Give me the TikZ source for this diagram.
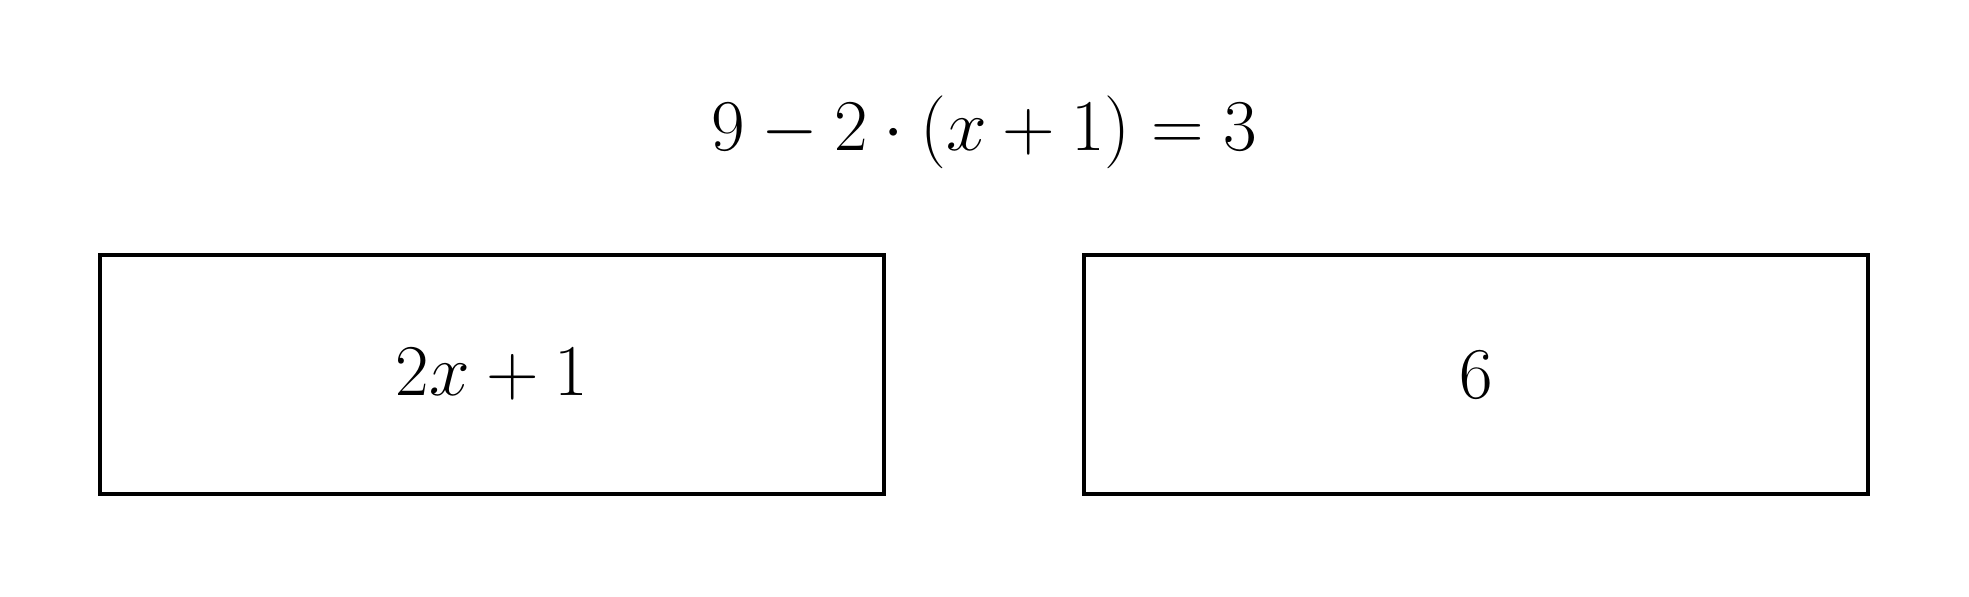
\documentclass[tikz,border=0pt]{standalone}
\begin{document}
\begin{tikzpicture}[x=0.01cm,y=-0.01cm,
  mathbox/.style={draw=black, line width=1.1pt, minimum width=7.84cm, minimum height=2.39cm, inner sep=0pt},
  big/.style={font=\fontsize{20}{24}\selectfont}]
\useasboundingbox (0,0) rectangle (1969,596);
\node[big, anchor=base] (eq) at (984.5,150) {$9-2\cdot(x+1)=3$};
\node[mathbox, big] (left) at (492,374.5) {$2x+1$};
\node[mathbox, big] (right) at (1476,374.5) {$6$};
\end{tikzpicture}
\end{document}
